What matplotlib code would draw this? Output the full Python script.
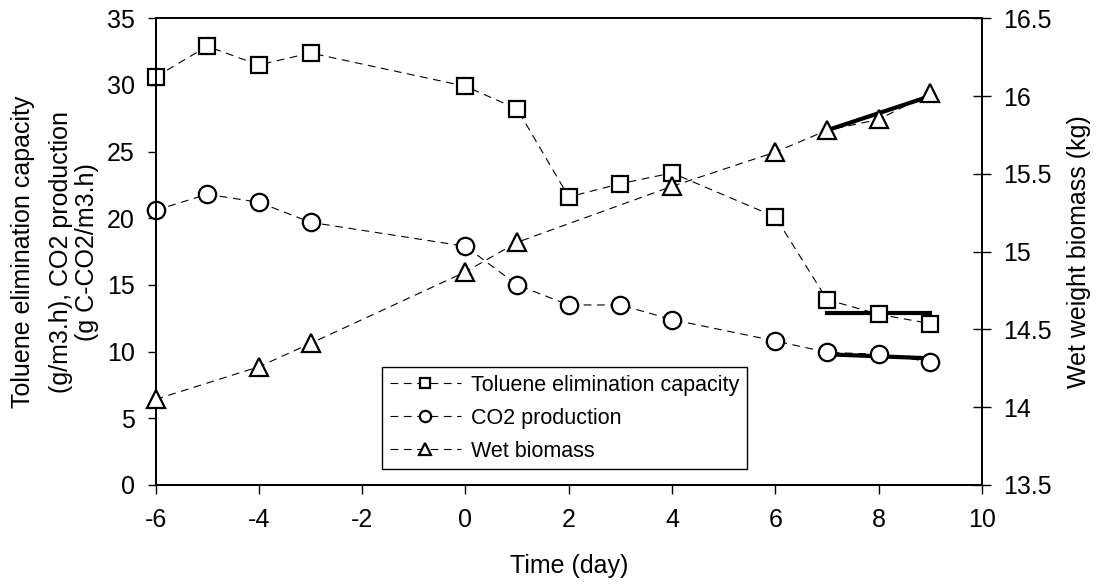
import numpy as np
import matplotlib
matplotlib.use('Agg')
import matplotlib.pyplot as plt
from matplotlib.ticker import FuncFormatter

plt.rcParams['font.family'] = ['Liberation Sans', 'DejaVu Sans']
plt.rcParams['font.size'] = 18
plt.rcParams['axes.unicode_minus'] = False

# data
days = [-6, -5, -4, -3, 0, 1, 2, 3, 4, 6, 7, 8, 9]
toluene_ec = [30.6, 32.9, 31.5, 32.4, 29.9, 28.2, 21.6, 22.6, 23.4, 20.1, 13.9, 12.8, 12.1]
co2_prod = [20.6, 21.8, 21.2, 19.7, 17.9, 15.0, 13.5, 13.5, 12.4, 10.8, 9.95, 9.8, 9.25]

biomass_days = [-6, -4, -3, 0, 1, 4, 6, 7, 8, 9]
wet_biomass = [14.05, 14.26, 14.41, 14.87, 15.06, 15.42, 15.64, 15.78, 15.85, 16.02]

# trend lines over the last days
trend_days = [7, 9]
toluene_trend = [12.9, 12.9]
co2_trend = [9.8, 9.5]
biomass_trend = [15.78, 16.0]

fig = plt.figure(figsize=(10.97, 5.88), dpi=100)
ax = fig.add_axes([0.1418, 0.1752, 0.7534, 0.7937])
ax2 = ax.twinx()

style = dict(color='black', lw=0.8, ls=(0, (7, 5)), mfc='white', mec='black',
             mew=1.6, clip_on=False, zorder=3)

l1, = ax.plot(days, toluene_ec, marker='s', ms=12, label='Toluene elimination capacity', **style)
l2, = ax.plot(days, co2_prod, marker='o', ms=12.5, label='CO2 production', **style)
l3, = ax2.plot(biomass_days, wet_biomass, marker='^', ms=13.5, label='Wet biomass', **style)

ax.plot(trend_days, toluene_trend, color='black', lw=3, zorder=1.5)
ax.plot(trend_days, co2_trend, color='black', lw=3, zorder=1.5)
ax2.plot(trend_days, biomass_trend, color='black', lw=3, zorder=1.5)

ax.set_xlim(-6, 10)
ax.set_ylim(0, 35)
ax2.set_ylim(13.5, 16.5)
ax.set_xticks(range(-6, 11, 2))
ax.set_yticks(range(0, 36, 5))
ax2.set_yticks(np.arange(13.5, 16.6, 0.5))
ax2.yaxis.set_major_formatter(FuncFormatter(lambda v, p: '%g' % v))

for a in (ax, ax2):
    for s in a.spines.values():
        s.set_linewidth(1.4)
ax.spines['right'].set_visible(False)
ax2.spines['top'].set_visible(False)

ax.tick_params(axis='y', direction='out', length=6, width=1, pad=9)
ax.tick_params(axis='x', direction='out', length=6.5, width=1, pad=10)
ax2.tick_params(axis='y', direction='inout', length=13, width=1, pad=9)

ax.set_xlabel('Time (day)', labelpad=16)

# left title: first line sits a bit apart from the two unit lines
ax.set_ylabel('(g/m3.h), CO2 production\n(g C-CO2/m3.h)', linespacing=1.1)
ax.yaxis.set_label_coords(-0.068, 0.5)
ax.text(-0.16, 0.5, 'Toluene elimination capacity', transform=ax.transAxes,
        rotation=90, ha='center', va='center', fontsize=18)

ax2.set_ylabel('Wet weight biomass (kg)')
ax2.yaxis.set_label_coords(1.103, 0.5)

leg = ax2.legend(handles=[l1, l2, l3], loc='lower left', bbox_to_anchor=(0.274, 0.034),
                 borderaxespad=0, frameon=True, fancybox=False, edgecolor='black',
                 framealpha=1, markerscale=0.65, handlelength=3.3, handletextpad=0.5,
                 labelspacing=0.55, borderpad=0.35, fontsize=15.5)
leg.get_frame().set_linewidth(1.0)

plt.savefig('out.png', dpi=100)
